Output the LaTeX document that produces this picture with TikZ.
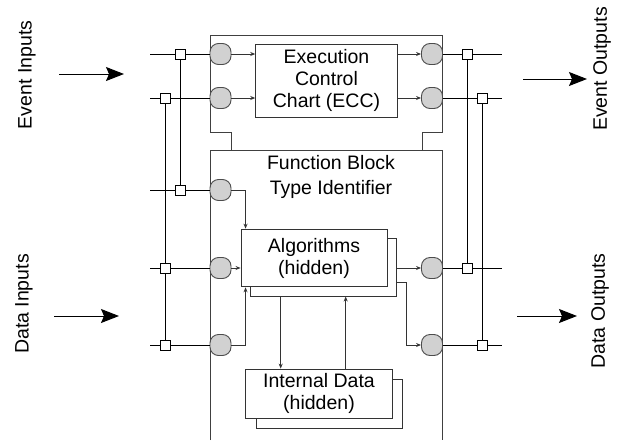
\documentclass[tikz,border=0pt]{standalone}
\usepackage{fontspec}
\setmainfont{Liberation Sans}
\usetikzlibrary{arrows.meta,positioning}

\begin{document}
\begin{tikzpicture}[
  x=1pt, y=-1pt,
  font=\fontsize{19.5}{22}\selectfont,
  line width=0.9pt,
  box/.style={draw=black!80, fill=white, align=center, inner sep=0pt},
  socket/.style={draw=black!70, fill=black!18, rounded corners=8.5pt,
    minimum width=21pt, minimum height=21pt, inner sep=0pt},
  junc/.style={draw, fill=white, minimum size=10pt, inner sep=0pt},
  arrow/.style={-{Stealth[length=5pt,width=4pt]}, black!80},
  bigarrow/.style={-{Stealth[length=18pt,width=14pt,inset=3pt]}, line width=1pt},
  sidelabel/.style={rotate=90}
]
\useasboundingbox (0,0) rectangle (625,440);

% block outline
\draw[black!75] (231,150) -- (231,132) -- (210,132) -- (210,35) -- (442,35)
  -- (442,132) -- (422,132) -- (422,150);
\draw[black!75] (210,440) -- (210,150) -- (442,150) -- (442,440);

\node[align=center, font=\fontsize{19.5}{25}\selectfont] (fbtype) at (331,177)
  {Function Block\\Type Identifier};

\node[box, minimum width=141.6pt, minimum height=73pt] (ecc) at (326.5,80.8)
  {Execution\\Control\\Chart (ECC)};
\node[box, minimum width=146pt, minimum height=57.7pt] (algb) at (323.7,267.2) {};
\node[box, minimum width=146pt, minimum height=57.7pt] (alg) at (314,258)
  {Algorithms\\(hidden)};
\node[box, minimum width=146.6pt, minimum height=49.3pt] (intdb) at (329.3,403.7) {};
\node[box, minimum width=146.6pt, minimum height=49.3pt] (intd) at (319,393.7)
  {Internal Data\\(hidden)};

% sockets
\node[socket] (ei1) at (220.5,54) {};
\node[socket] (ei2) at (220.5,98) {};
\node[socket] (di1) at (220.5,190) {};
\node[socket] (di2) at (220.5,268) {};
\node[socket] (di3) at (220.5,345) {};
\node[socket] (eo1) at (432,54) {};
\node[socket] (eo2) at (432,98) {};
\node[socket] (do1) at (432,268) {};
\node[socket] (do2) at (432,345) {};

% with connections
\node[junc] (j1) at (180,54) {};
\node[junc] (j2) at (165,98) {};
\node[junc] (j3) at (180,190) {};
\node[junc] (j4) at (165,268) {};
\node[junc] (j5) at (165,345) {};
\node[junc] (k1) at (467,54) {};
\node[junc] (k2) at (482,98) {};
\node[junc] (k3) at (467,268) {};
\node[junc] (k4) at (482,345) {};

\coordinate (ein1) at (150,54);
\coordinate (ein2) at (150,98);
\coordinate (din1) at (150,190);
\coordinate (din2) at (150,268);
\coordinate (din3) at (150,345);
\coordinate (eout1) at (502,54);
\coordinate (eout2) at (502,98);
\coordinate (dout1) at (502,268);
\coordinate (dout2) at (502,345);

\draw (ein1) -- (j1) -- (ei1);
\draw (ein2) -- (j2) -- (ei2);
\draw (din1) -- (j3) -- (di1);
\draw (din2) -- (j4) -- (di2);
\draw (din3) -- (j5) -- (di3);
\draw (j1) -- (j3);
\draw (j2) -- (j4) -- (j5);
\draw (eo1) -- (k1) -- (eout1);
\draw (eo2) -- (k2) -- (eout2);
\draw (do1) -- (k3) -- (dout1);
\draw (do2) -- (k4) -- (dout2);
\draw (k1) -- (k3);
\draw (k2) -- (k4);

% internal connections
\draw[arrow] (ei1) -- (ei1 -| ecc.west);
\draw[arrow] (ei2) -- (ei2 -| ecc.west);
\draw[arrow] (ecc.east |- eo1) -- (eo1);
\draw[arrow] (ecc.east |- eo2) -- (eo2);
\draw[arrow] (di1) -| ([xshift=5pt]alg.north west);
\draw[arrow] (di2) -- (di2 -| alg.west);
\draw[arrow] (di3) -| ([xshift=5pt]alg.south west);
\draw[arrow] (algb.east |- do1) -- (do1);
\draw[arrow] ([yshift=-15pt]algb.east) -| ([xshift=-15pt]do2.west) -- (do2);
\draw[arrow] ([xshift=-43pt]algb.south) -- ([xshift=-43pt]algb.south |- intd.north);
\draw[arrow] ([xshift=22pt]algb.south |- intd.north) -- ([xshift=22pt]algb.south);

% side labels
\node[sidelabel] (evin) at (27,75) {Event Inputs};
\node[sidelabel] (dain) at (24,304) {Data Inputs};
\node[sidelabel] (evout) at (602,69) {Event Outputs};
\node[sidelabel] (daout) at (600,311) {Data Outputs};

\coordinate (evina) at (59,74);
\coordinate (evinb) at (124,74);
\coordinate (daina) at (54,316);
\coordinate (dainb) at (119,316);
\coordinate (evouta) at (523,79);
\coordinate (evoutb) at (587,79);
\coordinate (daouta) at (517,316);
\coordinate (daoutb) at (577,316);
\draw[bigarrow] (evina) -- (evinb);
\draw[bigarrow] (daina) -- (dainb);
\draw[bigarrow] (evouta) -- (evoutb);
\draw[bigarrow] (daouta) -- (daoutb);
\end{tikzpicture}
\end{document}
